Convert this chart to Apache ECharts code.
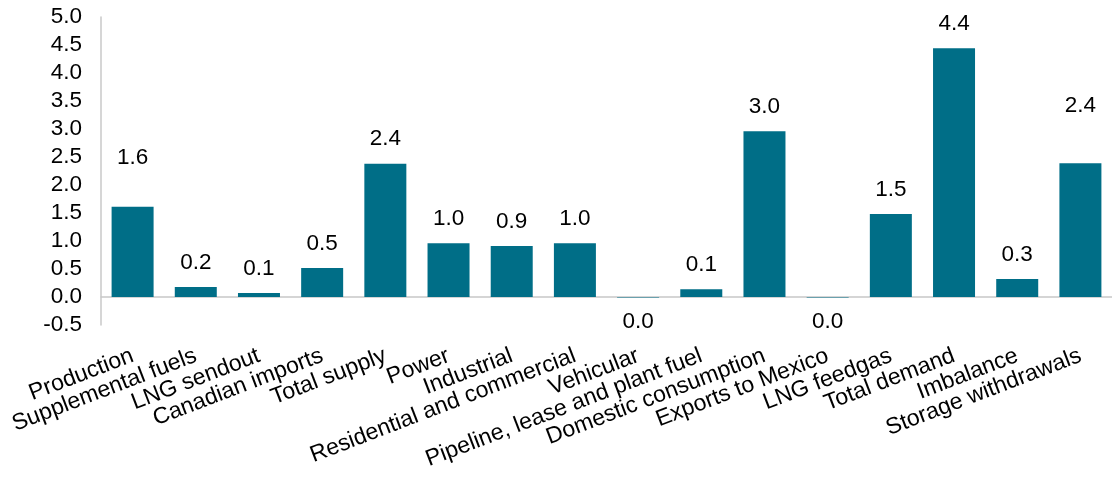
<!DOCTYPE html>
<html><head><meta charset="utf-8">
<script src="https://cdn.jsdelivr.net/npm/echarts@6/dist/echarts.min.js"></script>
<style>html,body{margin:0;padding:0;background:#fff}#c{width:1112px;height:478px}</style>
</head><body><div id="c"></div>
<script>
const categories = ["Production","Supplemental fuels","LNG sendout","Canadian imports","Total supply","Power","Industrial","Residential and commercial","Vehicular","Pipeline, lease and plant fuel","Domestic consumption","Exports to Mexico","LNG feedgas","Total demand","Imbalance","Storage withdrawals"];
const values = [1.61, 0.18, 0.07, 0.52, 2.38, 0.96, 0.91, 0.96, -0.01, 0.14, 2.96, -0.01, 1.48, 4.44, 0.32, 2.39];
const yTicks = [-0.5, 0, 0.5, 1, 1.5, 2, 2.5, 3, 3.5, 4, 4.5, 5];
const labelExtraOffset = [25, 0, 0, 0, 0, 0, 0, 0, 0, 0, 0, 0, 0, 0, 0, 33];

const font = '"Liberation Sans", Arial, sans-serif';
const fs = 22.5;
const chart = echarts.init(document.getElementById('c'), null, {renderer:'canvas'});
chart.setOption({
  animation:false,
  grid:{left:101, top:17, width:1017, height:308, containLabel:false},
  xAxis:{
    type:'category', data:categories,
    axisLine:{onZero:true, lineStyle:{color:'#c8c8c8', width:1.5}},
    axisTick:{show:false},
    axisLabel:{rotate:21, interval:0, margin:30, fontFamily:font, fontSize:23, color:'#000'}
  },
  yAxis:{
    type:'value', min:yTicks[0], max:yTicks[yTicks.length-1], interval:0.5,
    axisLine:{show:true, lineStyle:{color:'#c8c8c8', width:1.5}},
    axisTick:{show:false},
    splitLine:{show:false},
    axisLabel:{fontFamily:font, fontSize:fs, color:'#000', margin:19, formatter:v=>v.toFixed(1)}
  },
  series:[{
    type:'bar', barWidth:42,
    itemStyle:{color:'#006E87'},
    data: values.map((v,i)=>({
      value:v,
      label:{
        show:true,
        position: v < 0 ? 'bottom' : 'top',
        distance: 13,
        offset:[0, -labelExtraOffset[i]],
        fontFamily:font, fontSize:fs, color:'#000',
        formatter:p=>Math.abs(p.value).toFixed(1)
      }
    }))
  }]
});
</script></body></html>
